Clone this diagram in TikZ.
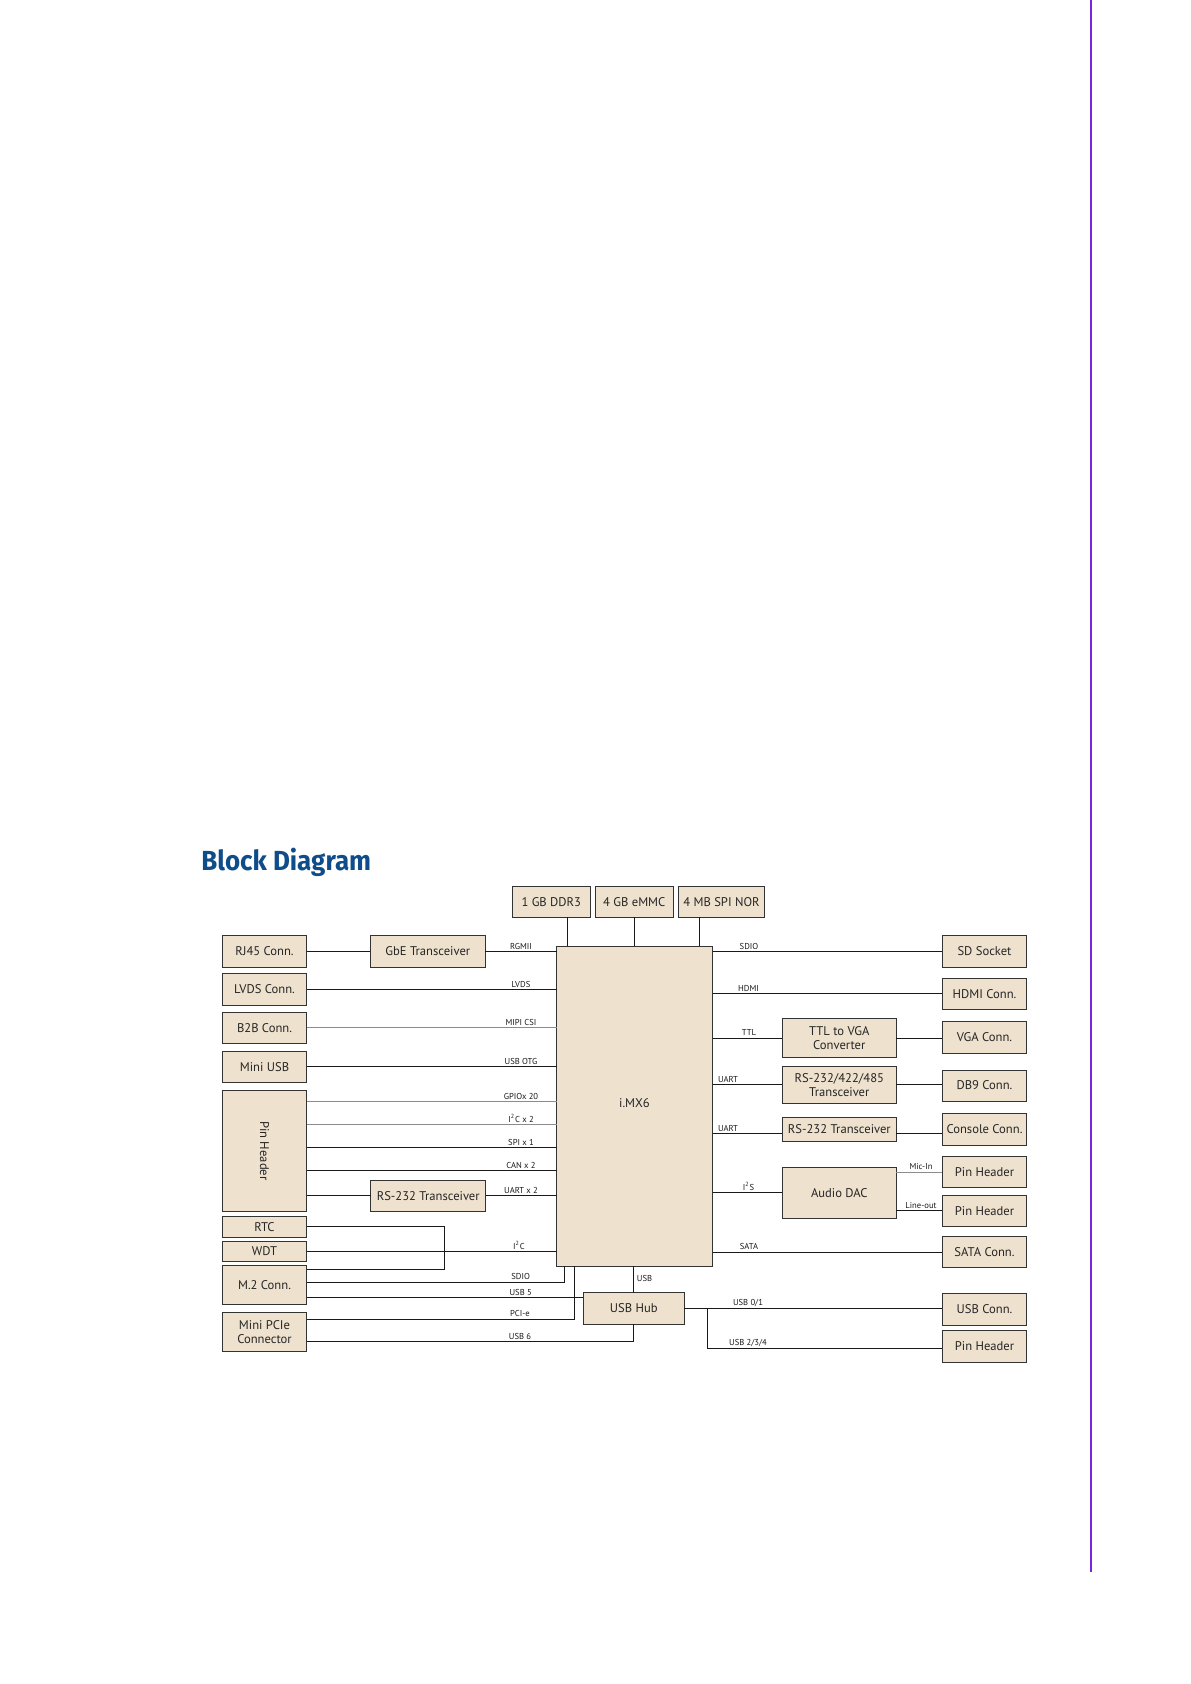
\documentclass[tikz,border=0pt]{standalone}
\usepackage{fontspec}
\setmainfont{PT Sans}
\newfontfamily\titlefont{Fira Sans}
\usepackage{tikz}
\usetikzlibrary{calc}
\definecolor{boxtan}{RGB}{238,225,206}
\definecolor{titleblue}{RGB}{14,76,138}
\definecolor{edgepurple}{RGB}{118,40,218}

\begin{document}
\begin{tikzpicture}[x=0.5pt, y=-0.5pt,
    blk/.style={draw=black!80, fill=boxtan, line width=0.5pt, inner sep=0pt, outer sep=0pt,
                font=\fontsize{6.3}{7.1}\selectfont, text=black!85, align=center},
    side/.style={blk, minimum width=42.2pt, minimum height=15.8pt},
    mid/.style={blk, minimum width=57.5pt, minimum height=15.8pt},
    mem/.style={blk, minimum height=15.6pt},
    wire/.style={line width=0.5pt, black!90},
    gwire/.style={line width=0.4pt, black!45},
    sig/.style={font=\fontsize{4.3}{5}\selectfont, text=black!90, inner sep=0.8pt, anchor=south},
]
\useasboundingbox (0,0) rectangle (1190,1684);

% page rule and heading
\draw[edgepurple, line width=1pt] (1091,0) -- (1091,1571.7);
\node[anchor=base west, inner sep=0pt, text=titleblue, font=\titlefont\bfseries\fontsize{13.8}{15}\selectfont]
    (title) at (201,870) {\scalebox{0.94}[1]{Block Diagram}};

% processor and memory
\node[blk, minimum width=78pt, minimum height=160pt] (imx) at (634.5,1106) {\raisebox{2.5pt}{i.MX6}};
\node[mem, minimum width=39.3pt] (ddr) at (551.3,901.7) {1 GB DDR3};
\node[mem, minimum width=38.9pt] (emmc) at (634.3,901.7) {4 GB eMMC};
\node[mem, minimum width=43pt] (nor) at (721.5,901.7) {4 MB SPI NOR};

% left column
\node[side] (rj45) at (264.5,951.5) {RJ45 Conn.};
\node[side, minimum height=15.9pt] (lvds) at (264.5,989.2) {LVDS Conn.};
\node[side, minimum height=15.5pt] (b2b) at (264.5,1027.8) {B2B Conn.};
\node[side, minimum height=15.5pt] (miniusb) at (264.5,1066.8) {Mini USB};
\node[blk, rotate=-90, minimum width=60.9pt, minimum height=42.2pt] (pinhdr) at (264.5,1150.9) {Pin Header};
\node[side, minimum height=10.7pt] (rtc) at (264.5,1226.7) {RTC};
\node[side, minimum height=10.2pt] (wdt) at (264.5,1251.5) {WDT};
\node[side, minimum height=19.4pt] (m2) at (264.5,1284.7) {M.2 Conn.};
\node[side, minimum height=19.4pt] (mpcie) at (264.5,1331.7) {Mini PCIe\\Connector};
\node[mid] (gbe) at (427.8,951.5) {GbE Transceiver};
\node[mid] (rsl) at (428.2,1195.9) {RS-232 Transceiver};
\node[blk, minimum width=50.5pt, minimum height=15.7pt] (hub) at (633.8,1308.4) {USB Hub};

% right column
\node[side] (sd) at (984.5,951.5) {SD Socket};
\node[side, minimum height=15.4pt] (hdmi) at (984.5,993.7) {HDMI Conn.};
\node[side] (vga) at (984.5,1037.5) {VGA Conn.};
\node[side, minimum height=15.5pt] (db9) at (984.5,1085.5) {DB9 Conn.};
\node[side, minimum height=15.9pt] (console) at (984.5,1129.2) {Console Conn.};
\node[side, minimum height=15.3pt] (ph1) at (984.5,1172) {Pin Header};
\node[side, minimum height=15.2pt] (ph2) at (984.5,1210.9) {Pin Header};
\node[side, minimum height=15.3pt] (sata) at (984.5,1252) {SATA Conn.};
\node[side, minimum height=15.9pt] (usbc) at (984.5,1309.2) {USB Conn.};
\node[side] (ph3) at (984.5,1346.5) {Pin Header};
\node[blk, minimum width=57pt, minimum height=19.3pt] (ttlvga) at (839.3,1038) {TTL to VGA\\Converter};
\node[blk, minimum width=57pt, minimum height=18.7pt] (rs485) at (839.3,1084.7) {RS-232/422/485\\Transceiver};
\node[blk, minimum width=57pt, minimum height=12.2pt] (rsr) at (839.3,1129.5) {RS-232 Transceiver};
\node[blk, minimum width=57pt, minimum height=25.5pt] (audio) at (839.3,1192.8) {Audio DAC};

% bend points
\coordinate (bRtc) at (444.3,1269.3);
\coordinate (bSdio) at (564.3,1282);
\coordinate (bUsb5) at (583.3,1297.3);
\coordinate (bPcie) at (574.3,1319);
\coordinate (bUsb6) at (633.8,1341.7);
\coordinate (bUsb) at (707.3,1348.3);

% memory buses
\draw[wire] ([xshift=8.1pt]ddr.south) -- ([xshift=8.1pt]ddr.south |- imx.north);
\draw[wire] (emmc.south) -- (emmc.south |- imx.north);
\draw[wire] ([xshift=-10.9pt]nor.south) -- ([xshift=-10.9pt]nor.south |- imx.north);

% left buses (pin header is turned, its north side faces the processor)
\draw[wire] (rj45) -- (gbe);
\draw[wire] (gbe.east) -- (gbe.east -| imx.west) node[sig, xshift=-17.75pt] {RGMII};
\draw[wire] (lvds.east) -- (lvds.east -| imx.west) node[sig, xshift=-17.75pt] {LVDS};
\draw[gwire] (b2b.east) -- (b2b.east -| imx.west) node[sig, xshift=-17.75pt] {MIPI CSI};
\draw[wire] (miniusb.east) -- (miniusb.east -| imx.west) node[sig, xshift=-17.75pt] {USB OTG};
\draw[gwire] ([yshift=24.7pt]pinhdr.north) -- ([yshift=24.7pt]pinhdr.north -| imx.west) node[sig, xshift=-17.75pt] {GPIOx 20};
\draw[gwire] ([yshift=13.3pt]pinhdr.north) -- ([yshift=13.3pt]pinhdr.north -| imx.west) node[sig, xshift=-17.75pt] {I\textsuperscript{2}C x 2};
\draw[wire] ([yshift=1.8pt]pinhdr.north) -- ([yshift=1.8pt]pinhdr.north -| imx.west) node[sig, xshift=-17.75pt] {SPI x 1};
\draw[wire] ([yshift=-10pt]pinhdr.north) -- ([yshift=-10pt]pinhdr.north -| imx.west) node[sig, xshift=-17.75pt] {CAN x 2};
\draw[wire] (rsl.west -| pinhdr.north) -- (rsl.west);
\draw[wire] (rsl.east) -- (rsl.east -| imx.west) node[sig, xshift=-17.75pt] {UART x 2};
\draw[wire] (rtc.east) -- (rtc.east -| bRtc) -- (bRtc) -- (bRtc -| m2.east);
\draw[wire] (wdt.east) -- (wdt.east -| imx.west) node[sig, xshift=-18.75pt] {I\textsuperscript{2}C};
\draw[wire] (bSdio -| m2.east) -- (bSdio) node[sig, xshift=-21.8pt] {SDIO} -- (bSdio |- imx.south);
\draw[wire] (bUsb5 -| m2.east) -- (bUsb5) node[sig, xshift=-31.3pt] {USB 5};
\draw[wire] (bPcie -| mpcie.east) -- (bPcie) node[sig, xshift=-27.15pt] {PCI-e} -- (bPcie |- imx.south);
\draw[wire] (bUsb6 -| mpcie.east) -- (bUsb6) node[sig, xshift=-56.9pt] {USB 6} -- (hub.south);
\draw[wire] (hub.north |- imx.south) -- node[sig, anchor=west, pos=0.45, xshift=0.5pt] {USB} (hub.north);

% right buses
\draw[wire] (sd.west -| imx.east) node[sig, xshift=18.25pt] {SDIO} -- (sd.west);
\draw[wire] (hdmi.west -| imx.east) node[sig, xshift=18pt] {HDMI} -- (hdmi.west);
\draw[wire] (ttlvga.west -| imx.east) node[sig, xshift=18.25pt] {TTL} -- (ttlvga.west);
\draw[wire] (ttlvga.east) -- (ttlvga.east -| vga.west);
\draw[wire] (rs485.west -| imx.east) node[sig, xshift=7.75pt] {UART} -- (rs485.west);
\draw[wire] (rs485.east) -- (rs485.east -| db9.west);
\draw[wire] ([yshift=-2pt]rsr.west -| imx.east) node[sig, xshift=7.75pt] {UART} -- ([yshift=-2pt]rsr.west);
\draw[wire] ([yshift=-2pt]rsr.east) -- ([yshift=-2pt]rsr.east -| console.west);
\draw[wire] (audio.west -| imx.east) node[sig, xshift=18pt] {I\textsuperscript{2}S} -- (audio.west);
\draw[gwire] (ph1.west) node[sig, xshift=-10.65pt] {Mic-In} -- (ph1.west -| audio.east);
\draw[wire] (ph2.west) node[sig, xshift=-10.65pt] {Line-out} -- (ph2.west -| audio.east);
\draw[wire] (sata.west -| imx.east) node[sig, xshift=18.25pt] {SATA} -- (sata.west);
\draw[wire] (hub.east) -- (hub.east -| usbc.west);
\draw[wire] (hub.east -| bUsb) node[sig, xshift=20.35pt] {USB 0/1} -- (bUsb) node[sig, xshift=20.35pt] {USB 2/3/4} -- (bUsb -| ph3.west);

\end{tikzpicture}
\end{document}
